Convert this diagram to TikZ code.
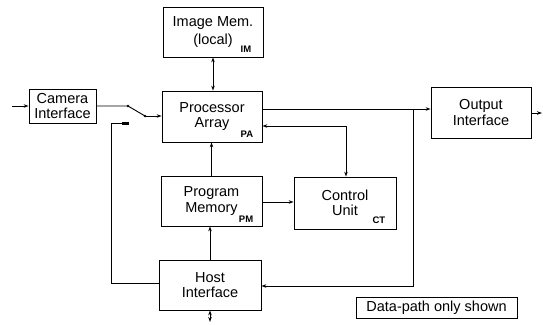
\documentclass[tikz,border=0pt]{standalone}
\usepackage{fontspec}
\setmainfont{Liberation Sans}
\usetikzlibrary{arrows.meta,calc}
\begin{document}
\begin{tikzpicture}[x=1pt,y=-1pt,
  blk/.style={draw,line width=0.8pt,align=center,inner sep=0pt,font=\fontsize{14.5}{15.5}\selectfont},
  sub/.style={inner sep=0pt,font=\fontsize{9.5}{10}\selectfont\bfseries,anchor=south east},
  conn/.style={line width=0.9pt},
  arr/.style={conn,-{Stealth[length=5pt,width=3.5pt]}},
  arrb/.style={conn,{Stealth[length=5pt,width=3.5pt]}-{Stealth[length=5pt,width=3.5pt]}}]
\useasboundingbox (0,0) rectangle (543,324);
% blocks
\node[blk,minimum width=100pt,minimum height=50pt] (im) at (213,32) {Image Mem.\\[2pt](local)};
\node[blk,minimum width=100pt,minimum height=51pt] (pa) at (212,116.5) {Processor\\Array};
\node[blk,minimum width=67pt,minimum height=34pt] (cam) at (62.5,106) {Camera\\Interface};
\node[blk,minimum width=101pt,minimum height=50pt] (pm) at (211.5,201) {Program\\Memory};
\node[blk,minimum width=102pt,minimum height=50pt] (host) at (210,285) {Host\\Interface};
\node[blk,minimum width=102pt,minimum height=52pt] (ct) at (345,203) {Control\\Unit};
\node[blk,minimum width=100pt,minimum height=51pt] (out) at (481,112.5) {Output\\Interface};
\node[draw,line width=0.6pt,inner sep=0pt,minimum width=161pt,minimum height=21pt,font=\fontsize{14.5}{15.5}\selectfont] (note) at (436.5,307.5) {Data-path only shown};
% subscript labels
\node[sub] (imL) at ([shift={(-12,-5)}]im.south east) {IM};
\node[sub] (paL) at ([shift={(-9,-5)}]pa.south east) {PA};
\node[sub] (pmL) at ([shift={(-9,-4)}]pm.south east) {PM};
\node[sub] (ctL) at ([shift={(-11,-6)}]ct.south east) {CT};
% coordinates
\coordinate (in) at (12,106);
\coordinate (s1) at (128,106);
\coordinate (s2) at (145,116);
\coordinate (s3) at (129,123);
\coordinate (fb) at (111,283);
\coordinate (j1) at (413,109);
\coordinate (j2) at (413,286);
\coordinate (k) at (346,126);
\coordinate (m) at (278,202);
\coordinate (o2) at (542,113);
\coordinate (hb) at (210,322);
% connectors
\draw[arr] (in) -- (cam.west |- in);
\draw[conn] (cam.east |- s1) -- (s1) -- (s2);
\fill (s1) circle (1.3pt) (s2) circle (1.3pt);
\draw[arr] (s2) -- (pa.west |- s2);
\draw[conn] (host.west |- fb) -- (fb) -- (fb |- s3) -- (s3);
\fill ([shift={(-7,-1.5)}]s3) rectangle ([shift={(0,1.5)}]s3);
\draw[arrb] (im.south) -- (im.south |- pa.north);
\draw[arr] (pm.north) -- (pm.north |- pa.south);
\draw[arr] (host.north) -- (host.north |- pm.south);
\draw[arrb] (host.south) -- (hb);
\draw[arr] (pm.east |- m) -- (ct.west |- m);
\draw[arrb] (pa.east |- k) -- (k) -- (ct.north -| k);
\draw[arr] (pa.east |- j1) -- (out.west |- j1);
\draw[arr] (j1) -- (j2) -- (host.east |- j2);
\draw[arr] (out.east |- o2) -- (o2);
\end{tikzpicture}
\end{document}
